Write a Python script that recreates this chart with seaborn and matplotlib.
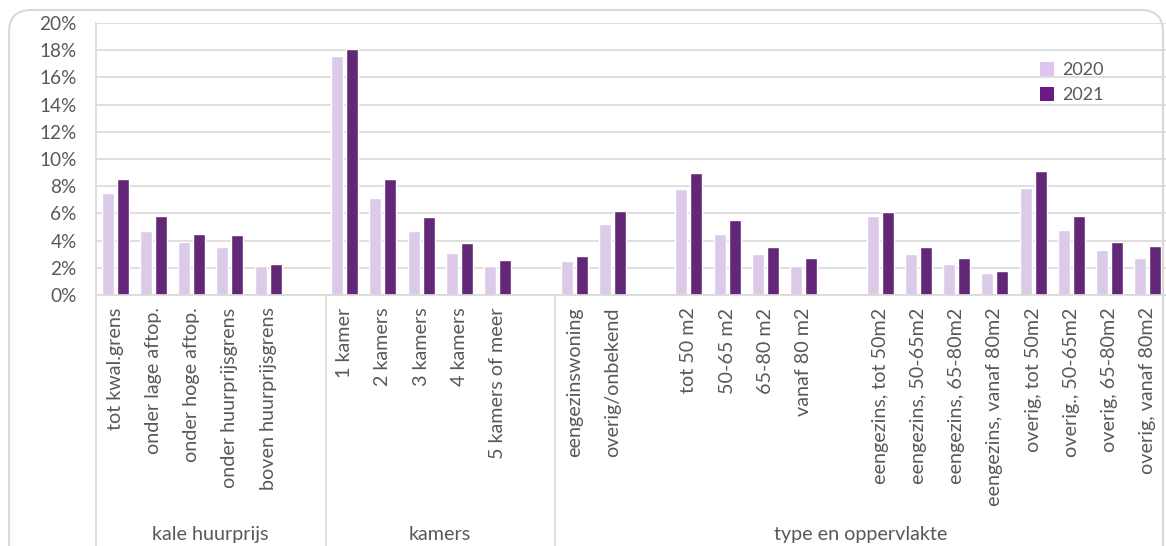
import numpy as np
import pandas as pd
import seaborn as sns
import matplotlib.pyplot as plt
from matplotlib.patches import FancyBboxPatch, Patch
from matplotlib.ticker import FuncFormatter

# categorieen per groep
cat_kale = ["tot kwal.grens", "onder lage aftop.", "onder hoge aftop.",
            "onder huurprijsgrens", "boven huurprijsgrens"]
cat_kamers = ["1 kamer", "2 kamers", "3 kamers", "4 kamers", "5 kamers of meer"]
cat_type_a = ["eengezinswoning", "overig/onbekend"]
cat_type_b = ["tot 50 m2", "50-65 m2", "65-80 m2", "vanaf 80 m2"]
cat_type_c = ["eengezins, tot 50m2", "eengezins, 50-65m2", "eengezins, 65-80m2",
              "eengezins, vanaf 80m2", "overig, tot 50m2", "overig., 50-65m2",
              "overig, 65-80m2", "overig, vanaf 80m2"]

groepen = ["kale huurprijs", "kamers", "type en oppervlakte"]

# waarden (%)
v2020 = [7.5, 4.7, 3.9, 3.5, 2.1,
         17.6, 7.1, 4.7, 3.1, 2.1,
         2.5, 5.2,
         7.8, 4.5, 3.0, 2.1,
         5.8, 3.0, 2.3, 1.6, 7.9, 4.8, 3.3, 2.7]
v2021 = [8.5, 5.8, 4.5, 4.4, 2.3,
         18.1, 8.5, 5.7, 3.8, 2.6,
         2.9, 6.2,
         9.0, 5.5, 3.5, 2.7,
         6.1, 3.5, 2.7, 1.8, 9.1, 5.8, 3.9, 3.6]

jaren = ["2020", "2021"]
kleuren = ["#DDC5EE", "#6A1A84"]
grijs = "#595959"
lijn = "#D9D9D9"

# volgorde met lege posities tussen de blokken
volgorde = (cat_kale + ["_g1"] + cat_kamers + ["_g2"] + cat_type_a + ["_g3"]
            + cat_type_b + ["_g4"] + cat_type_c)
categorieen = cat_kale + cat_kamers + cat_type_a + cat_type_b + cat_type_c

df = pd.DataFrame({
    "categorie": categorieen * 2,
    "waarde": v2020 + v2021,
    "jaar": [jaren[0]] * len(categorieen) + [jaren[1]] * len(categorieen),
})

sns.set_style("white")
plt.rcParams["font.family"] = ["Lato", "DejaVu Sans"]

fig = plt.figure(figsize=(11.66, 5.46), dpi=100)
W, H = 1166, 546
ax = fig.add_axes([96 / W, 1 - 295 / H, (1167 - 96) / W, (295 - 23) / H])

sns.barplot(data=df, x="categorie", y="waarde", hue="jaar", order=volgorde,
            hue_order=jaren, palette=kleuren, width=0.78, gap=0.2,
            legend=False, ax=ax, errorbar=None)

ax.set_xlim(-0.5, len(volgorde) - 0.5)
ax.set_ylim(0, 20)
ax.set_yticks(np.arange(0, 21, 2))
ax.yaxis.set_major_formatter(FuncFormatter(lambda v, p: f"{int(v)}%"))
ax.grid(axis="y", color=lijn, linewidth=1.2)
ax.set_axisbelow(True)
for s in ["top", "right"]:
    ax.spines[s].set_visible(False)
for s in ["left", "bottom"]:
    ax.spines[s].set_color(lijn)
    ax.spines[s].set_linewidth(1.2)

ax.set_xticks(range(len(volgorde)))
ax.set_xticklabels(["" if c.startswith("_g") else c for c in volgorde],
                   rotation=90, fontsize=14.2, color=grijs, va="top")
ax.tick_params(axis="x", length=0, pad=9)
ax.tick_params(axis="y", length=0, pad=14, labelsize=13.7, labelcolor=grijs)
ax.set_xlabel("")
ax.set_ylabel("")

# scheidingslijnen en groepslabels
grenzen = [-0.5, 5.5, 11.5, len(volgorde) - 0.5]
for g in grenzen[:-1]:
    ax.plot([g, g], [0, -1.0], transform=ax.get_xaxis_transform(),
            color=lijn, linewidth=1.2, clip_on=False)
for i, naam in enumerate(groepen):
    ax.text((grenzen[i] + grenzen[i + 1]) / 2, -0.882, naam,
            transform=ax.get_xaxis_transform(), ha="center", va="center",
            fontsize=14.2, color=grijs)

# legenda
handles = [Patch(facecolor=k, edgecolor="none") for k in kleuren]
fig.legend(handles, jaren, loc="upper left", bbox_to_anchor=(1024 / W, 1 - 46 / H),
           frameon=False, fontsize=13, handlelength=0.75, handleheight=0.75,
           handletextpad=0.45, labelspacing=0.5, labelcolor=grijs)

# afgeronde kaderlijn
kader = FancyBboxPatch((0.09, -0.3), 11.54, 5.66,
                       boxstyle="round,pad=0,rounding_size=0.22",
                       transform=fig.dpi_scale_trans, facecolor="none",
                       edgecolor=lijn, linewidth=1.5)
fig.patches.append(kader)

fig.savefig("out.png", dpi=100)
